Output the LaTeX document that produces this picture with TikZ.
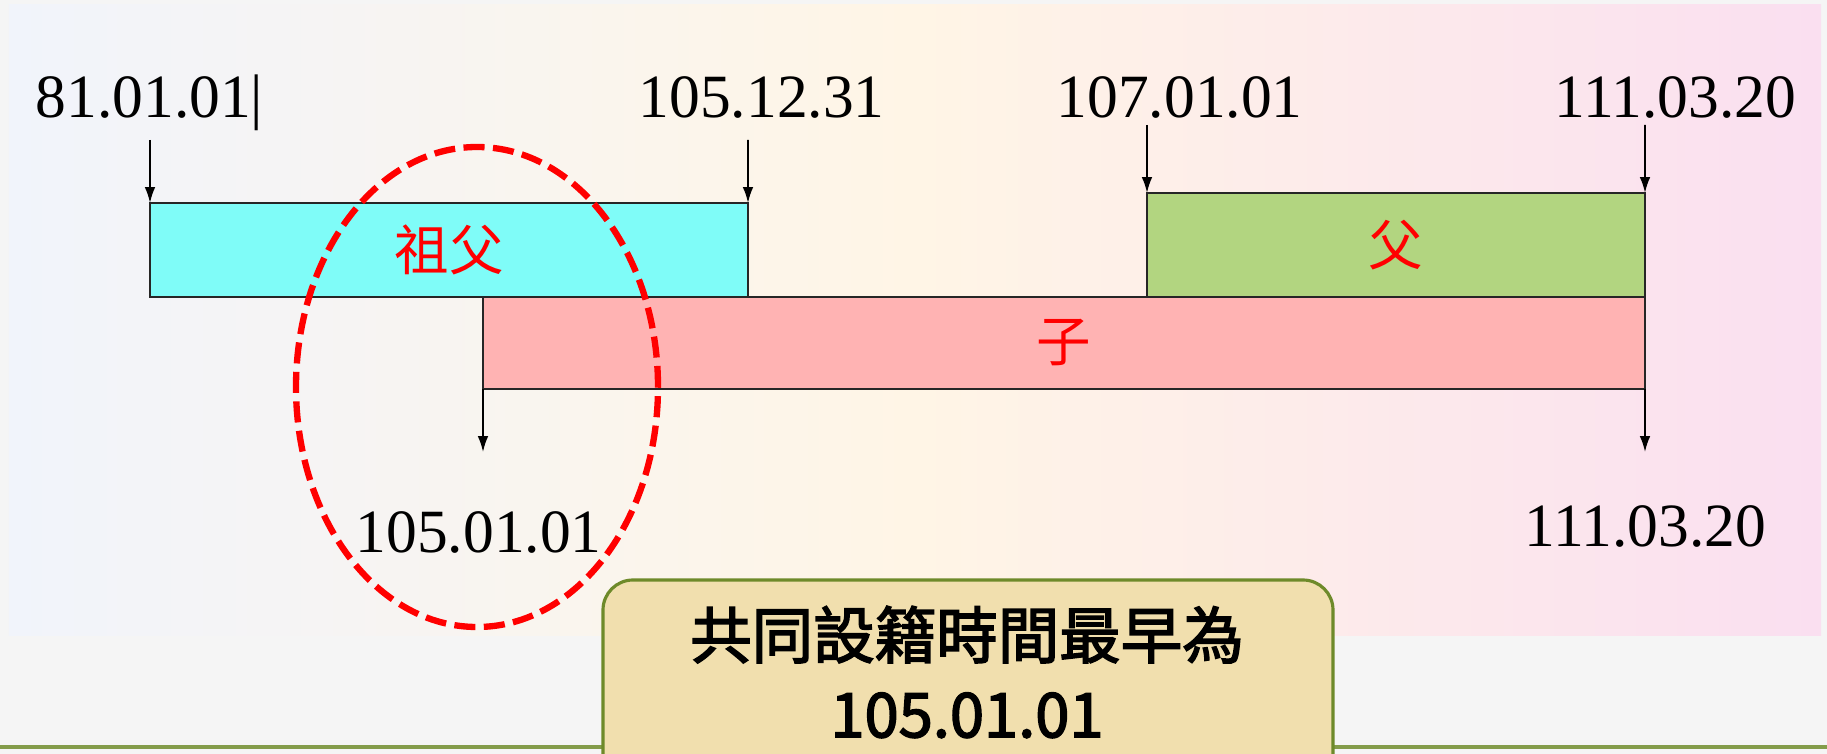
\documentclass[tikz,border=0pt]{standalone}
\usepackage{fontspec}
\setmainfont{Liberation Serif}
\newfontfamily\cjk{Noto Sans CJK TC}
\newfontfamily\cjkbold{Noto Sans CJK TC}[FakeBold=2.5]
\usetikzlibrary{arrows.meta}
\definecolor{panelblue}{HTML}{F1F4FB}
\definecolor{panelcream}{HTML}{FFF5E6}
\definecolor{panelpink}{HTML}{FADFF0}
\definecolor{gfcyan}{HTML}{7FFCF8}
\definecolor{fagreen}{HTML}{B2D580}
\definecolor{sonpink}{HTML}{FFB3B3}
\definecolor{notefill}{HTML}{F1DFAE}
\definecolor{noteline}{HTML}{6E8A2A}
\tikzset{
  span/.style={draw=black!85, line width=0.6pt, inner sep=0pt, outer sep=0pt, anchor=north west, text=red, font=\cjk\fontsize{15.5}{18}\selectfont},
  date/.style={anchor=base west, inner sep=0pt, font=\fontsize{17.5}{20}\selectfont},
  tick/.style={-{Latex[length=4.5pt,width=3pt]}, line width=0.5pt},
}

\begin{document}
\begin{tikzpicture}
		%%%%% START %%%%%
		\useasboundingbox (0,0) rectangle (18.27,-7.54);
		\fill[black!4] (0,0) rectangle (18.27,-7.54);
		\shade[left color=panelblue, right color=panelpink, middle color=panelcream] (0.09,-0.05) rectangle (18.21,-6.35);
		\draw[noteline!85, line width=0.9pt] (0,-7.47) -- (18.27,-7.47);
		
		\node[span, fill=gfcyan, minimum width=5.98cm, minimum height=0.94cm] (gf) at (1.50,-2.03) {祖父};
		\node[span, fill=fagreen, minimum width=4.98cm, minimum height=1.04cm] (fa) at (11.47,-1.93) {父};
		\node[span, fill=sonpink, minimum width=11.62cm, minimum height=0.92cm] (son) at (4.83,-2.97) {子};
		
		\node[date] (gfstart) at (0.35,-1.18) {81.01.01|};
		\node[date] (gfend) at (6.38,-1.18) {105.12.31};
		\node[date] (fastart) at (10.56,-1.18) {107.01.01};
		\node[date] (faend) at (15.54,-1.18) {111.03.20};
		\node[date] (sonstart) at (3.55,-5.52) {105.01.01};
		\node[date] (sonend) at (15.24,-5.47) {111.03.20};
		
		\coordinate (t1) at (1.50,-1.40);
		\coordinate (t2) at (7.48,-1.40);
		\coordinate (t3) at (11.47,-1.25);
		\coordinate (t4) at (16.45,-1.25);
		\coordinate (b1) at (4.83,-4.52);
		\coordinate (b2) at (16.45,-4.52);
		\draw[tick] (t1) -- (gf.north west);
		\draw[tick] (t2) -- (gf.north east);
		\draw[tick] (t3) -- (fa.north west);
		\draw[tick] (t4) -- (fa.north east);
		\draw[tick] (son.south west) -- (b1);
		\draw[tick] (son.south east) -- (b2);
		
		\draw[red, line width=1.8pt, dash pattern=on 6pt off 2.4pt] (4.77,-3.87) ellipse [x radius=1.81, y radius=2.40];
		
		\draw[fill=notefill, draw=noteline, line width=0.9pt, rounded corners=0.3cm] (6.03,-5.80) rectangle (13.33,-8.2);
		\node[font=\cjkbold\fontsize{17.5}{22.5}\selectfont, align=center] (note) at (9.67,-6.72) {共同設籍時間最早為\\105.01.01};
		%%%%% END %%%%%
	\end{tikzpicture}
\end{document}
